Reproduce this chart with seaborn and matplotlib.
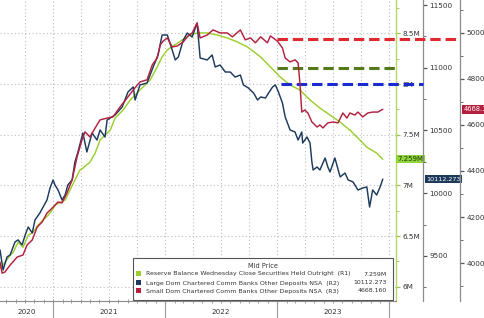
import matplotlib
matplotlib.use("Agg")
import numpy as np
import pandas as pd
import matplotlib.pyplot as plt
import matplotlib.dates as mdates
import matplotlib.transforms as mtrans
from matplotlib.ticker import FixedLocator, AutoMinorLocator, FuncFormatter, NullFormatter
from matplotlib.patches import Rectangle
import seaborn as sns

sns.set_theme(style="white")
plt.rcParams['font.family'] = ['DejaVu Sans']

# ---------------- data ----------------
GREEN_DATES = ["2020-07-12", "2020-07-28", "2020-08-14", "2020-08-24", "2020-09-09", "2020-09-25",
               "2020-10-12", "2020-10-28", "2020-11-13", "2020-11-29", "2020-12-16", "2020-12-29",
               "2021-01-07", "2021-01-24", "2021-02-09", "2021-02-25", "2021-03-13", "2021-03-29",
               "2021-04-08", "2021-05-01", "2021-05-18", "2021-06-03", "2021-07-06", "2021-07-22",
               "2021-08-17", "2021-09-09", "2021-10-11", "2021-11-13", "2021-12-06", "2021-12-22",
               "2022-01-08", "2022-01-27", "2022-02-26", "2022-03-23", "2022-04-15", "2022-05-18",
               "2022-06-19", "2022-07-22", "2022-08-24", "2022-09-26", "2022-11-08", "2022-12-10",
               "2023-01-11", "2023-02-12", "2023-03-16", "2023-04-18", "2023-05-20", "2023-06-22",
               "2023-07-25", "2023-08-26", "2023-09-18", "2023-10-20", "2023-11-21", "2023-12-11"]
GREEN_VALUES = [6.183, 6.242, 6.311, 6.341, 6.440, 6.390, 6.509, 6.539, 6.608, 6.657, 6.707, 6.756,
                6.805, 6.835, 6.855, 6.954, 7.052, 7.151, 7.171, 7.230, 7.319, 7.448, 7.546, 7.665,
                7.744, 7.843, 7.942, 8.041, 8.169, 8.268, 8.337, 8.376, 8.436, 8.485, 8.505, 8.505,
                8.485, 8.456, 8.416, 8.367, 8.268, 8.169, 8.070, 7.991, 7.942, 7.843, 7.764, 7.695,
                7.625, 7.546, 7.477, 7.378, 7.319, 7.259]

BLUE_DATES = ["2020-07-12", "2020-07-22", "2020-08-04", "2020-08-14", "2020-08-30", "2020-09-09",
              "2020-09-22", "2020-10-02", "2020-10-12", "2020-10-25", "2020-11-03", "2020-11-19",
              "2020-12-12", "2020-12-22", "2021-01-01", "2021-01-07", "2021-01-17", "2021-01-30",
              "2021-02-09", "2021-02-18", "2021-03-04", "2021-03-13", "2021-03-23", "2021-04-08",
              "2021-04-21", "2021-05-08", "2021-05-24", "2021-06-03", "2021-06-19", "2021-06-26",
              "2021-07-22", "2021-08-14", "2021-09-02", "2021-09-19", "2021-09-25", "2021-10-11",
              "2021-11-03", "2021-11-23", "2021-12-09", "2021-12-22", "2022-01-08", "2022-01-24",
              "2022-02-03", "2022-02-13", "2022-03-01", "2022-03-14", "2022-03-30", "2022-04-15",
              "2022-04-25", "2022-05-18", "2022-06-03", "2022-06-13", "2022-06-29", "2022-07-16",
              "2022-08-01", "2022-08-17", "2022-09-03", "2022-09-13", "2022-09-29", "2022-10-16",
              "2022-10-29", "2022-11-08", "2022-11-24", "2022-12-04", "2022-12-17", "2022-12-26",
              "2023-01-05", "2023-01-18", "2023-01-27", "2023-02-12", "2023-02-28", "2023-03-10",
              "2023-03-22", "2023-03-25", "2023-04-08", "2023-04-18", "2023-04-24", "2023-04-28",
              "2023-05-11", "2023-05-20", "2023-06-06", "2023-06-15", "2023-06-22", "2023-07-08",
              "2023-07-25", "2023-08-10", "2023-08-20", "2023-09-05", "2023-09-21", "2023-10-07",
              "2023-10-20", "2023-10-29", "2023-11-08", "2023-11-21", "2023-12-01", "2023-12-11"]
BLUE_VALUES = [9548, 9388, 9492, 9508, 9612, 9628, 9588, 9667, 9731, 9683, 9787, 9843,
               9946, 10042, 10106, 10066, 10026, 9946, 9986, 10066, 10106, 10249, 10329, 10480,
               10329, 10480, 10424, 10504, 10448, 10584, 10624, 10687, 10807, 10847, 10743, 10863,
               10879, 11006, 11102, 11261, 11261, 11141, 11062, 11086, 11221, 11277, 11245, 11357,
               11078, 11062, 11102, 11006, 11022, 10966, 10966, 10926, 10942, 10863, 10839, 10799,
               10743, 10767, 10759, 10799, 10847, 10863, 10807, 10719, 10608, 10504, 10488, 10424,
               10488, 10400, 10448, 10400, 10249, 10185, 10209, 10185, 10281, 10209, 10169, 10281,
               10130, 10161, 10106, 10090, 10026, 10042, 10050, 9890, 10026, 9986, 10042, 10112.273]

RED_DATES = ["2020-07-12", "2020-07-19", "2020-07-28", "2020-08-14", "2020-09-06", "2020-09-25",
             "2020-10-08", "2020-10-25", "2020-11-10", "2020-11-26", "2020-12-12", "2021-01-01",
             "2021-01-17", "2021-01-30", "2021-02-15", "2021-03-04", "2021-03-20", "2021-04-05",
             "2021-04-15", "2021-05-01", "2021-05-18", "2021-06-03", "2021-06-26", "2021-07-15",
             "2021-08-07", "2021-08-30", "2021-09-19", "2021-10-11", "2021-11-03", "2021-11-20",
             "2021-12-06", "2021-12-16", "2021-12-26", "2022-01-08", "2022-01-24", "2022-02-09",
             "2022-03-01", "2022-03-17", "2022-03-30", "2022-04-15", "2022-04-25", "2022-05-18",
             "2022-06-06", "2022-06-29", "2022-07-22", "2022-08-08", "2022-09-03", "2022-09-19",
             "2022-10-06", "2022-10-22", "2022-11-08", "2022-11-30", "2022-12-10", "2023-01-01",
             "2023-01-18", "2023-01-27", "2023-02-12", "2023-02-28", "2023-03-10", "2023-03-16",
             "2023-03-22", "2023-04-01", "2023-04-11", "2023-04-24", "2023-05-11", "2023-05-20",
             "2023-05-30", "2023-06-15", "2023-07-02", "2023-07-18", "2023-08-03", "2023-08-16",
             "2023-08-26", "2023-09-11", "2023-09-21", "2023-10-07", "2023-10-23", "2023-11-08",
             "2023-11-25", "2023-12-11"]
RED_VALUES = [4004, 3956, 3961, 3991, 4026, 4035, 4078, 4100, 4156, 4178, 4217, 4243,
              4265, 4261, 4304, 4361, 4461, 4535, 4570, 4548, 4587, 4622, 4630, 4635,
              4678, 4717, 4752, 4787, 4796, 4861, 4891, 4948, 4965, 4978, 4939, 4943,
              4961, 4987, 5000, 5043, 4978, 4991, 5013, 5000, 5000, 4983, 5013, 4970,
              4978, 4957, 4983, 4957, 4987, 4965, 4935, 4891, 4874, 4883, 4870, 4783,
              4656, 4665, 4652, 4613, 4591, 4600, 4587, 4609, 4613, 4609, 4652, 4630,
              4652, 4643, 4656, 4635, 4652, 4656, 4656, 4668.16]

# pre-SVB reference levels (dashed)
GREEN_LEVEL, GREEN_LEVEL_START = 8.159, "2023-01-01"
BLUE_LEVEL, BLUE_LEVEL_START = 10867, "2023-01-14"
RED_LEVEL, RED_LEVEL_START = 4974, "2023-01-01"

YEARS = [2020, 2021, 2022, 2023]
LEGEND_TITLE = "Mid Price"
LEGEND_LABELS = ["Reserve Balance Wednesday Close Securities Held Outright  (R1)",
                 "Large Dom Chartered Comm Banks Other Deposits NSA  (R2)",
                 "Small Dom Chartered Comm Banks Other Deposits NSA  (R3)"]
LAST_LABELS = ["7.259M", "10112.273", "4668.160"]

# ---------------- style ----------------
C_GREEN = "#9bcf2e"
C_BLUE = "#1d3a5c"
C_RED = "#b3203f"
C_RED_DASH = "#e0282e"
C_GREEN_DASH = "#557a1c"
C_BLUE_DASH = "#1a2bd1"
GRID = "#bdbdbd"
TXT = "#333333"

fig = plt.figure(figsize=(4.85, 3.18), dpi=100)
W, H = 485, 318
ax = fig.add_axes([0, 1 - 301 / H, 396 / W, 301 / H])
axb = ax.twinx()
axr = ax.twinx()

gx = pd.to_datetime(GREEN_DATES)
bx = pd.to_datetime(BLUE_DATES)
rx = pd.to_datetime(RED_DATES)

sns.lineplot(x=gx, y=GREEN_VALUES, ax=ax, color=C_GREEN, lw=1.05, zorder=3)
sns.lineplot(x=bx, y=BLUE_VALUES, ax=axb, color=C_BLUE, lw=1.05, zorder=3)
sns.lineplot(x=rx, y=RED_VALUES, ax=axr, color=C_RED, lw=1.05, zorder=3)

x0 = pd.Timestamp("2020-07-12")
x1 = pd.Timestamp("2024-01-23")
for a in (ax, axb, axr):
    a.set_xlim(x0, x1)
    a.set_xlabel("")
    a.set_ylabel("")
ax.set_ylim(5.86, 8.83)
axb.set_ylim(9141, 11540)
axr.set_ylim(3835, 5143)

# spines
for a in (ax, axb, axr):
    a.spines['top'].set_visible(False)
    a.spines['left'].set_visible(False)
axb.spines['bottom'].set_visible(False)
axr.spines['bottom'].set_visible(False)
ax.spines['bottom'].set_color("#8c8c8c")
ax.spines['bottom'].set_linewidth(0.8)
ax.spines['right'].set_color("#b5d86a")
ax.spines['right'].set_linewidth(1.0)
axb.spines['right'].set_position(('axes', 423 / 396))
axb.spines['right'].set_color("#8c8c8c")
axb.spines['right'].set_linewidth(0.9)
axr.spines['right'].set_position(('axes', 460 / 396))
axr.spines['right'].set_color("#8c8c8c")
axr.spines['right'].set_linewidth(0.9)

# y ticks
ax.yaxis.tick_right()
ax.set_yticks([6.0, 6.5, 7.0, 7.5, 8.0, 8.5])
ax.yaxis.set_major_formatter(FuncFormatter(lambda v, p: f"{v:g}M"))
ax.yaxis.set_minor_locator(AutoMinorLocator(2))
axb.set_yticks([9500, 10000, 10500, 11000, 11500])
axb.yaxis.set_minor_locator(AutoMinorLocator(2))
axr.set_yticks([4000, 4200, 4400, 4600, 4800, 5000])
axr.yaxis.set_minor_locator(AutoMinorLocator(2))
for a, col in ((ax, "#9cc24a"), (axb, "#555555"), (axr, "#555555")):
    a.tick_params(axis='y', which='major', right=True, left=False, direction='out', length=3,
                  width=0.9, color=col, labelsize=5.2, labelcolor=TXT, pad=1.5)
    a.tick_params(axis='y', which='minor', right=True, left=False, direction='out', length=1.8,
                  width=0.6, color=col)

# x axis: year labels at mid-year of visible part, monthly minor ticks, year separators
xl0, xl1 = mdates.date2num(x0), mdates.date2num(x1)
mids = []
for y in YEARS:
    a0 = max(mdates.date2num(pd.Timestamp(f"{y}-01-01")), xl0)
    a1 = min(mdates.date2num(pd.Timestamp(f"{y + 1}-01-01")), xl1)
    mids.append((a0 + a1) / 2)
ax.set_xticks(mids)
ax.set_xticklabels([str(y) for y in YEARS])
ax.xaxis.set_minor_locator(mdates.MonthLocator())
ax.xaxis.set_minor_formatter(NullFormatter())
ax.tick_params(axis='x', which='major', length=0, labelsize=5.2, labelcolor=TXT, pad=6)
ax.tick_params(axis='x', which='minor', bottom=True, direction='inout', length=3, width=0.6,
               color="#8c8c8c")
sec = ax.secondary_xaxis('bottom')
sec.set_xticks([mdates.date2num(pd.Timestamp(f"{y}-01-01")) for y in YEARS[1:] + [YEARS[-1] + 1]])
sec.tick_params(axis='x', which='major', length=16, width=0.8, color="#9a9a9a", labelbottom=False)
sec.tick_params(axis='x', which='minor', length=0)
sec.spines['bottom'].set_visible(False)

# grids
ax.grid(True, axis='y', which='major', ls=(0, (1, 2.2)), color=GRID, lw=0.8)
ax.grid(False, axis='x')
for q in pd.date_range("2020-07-01", "2024-01-01", freq="QS"):
    if x0 <= q <= x1:
        ax.axvline(q, ls=(0, (1, 2.2)), color=GRID, lw=0.8, zorder=0.5)

# dashed reference levels
def frac(d):
    return (mdates.date2num(pd.Timestamp(d)) - xl0) / (xl1 - xl0)

ax.axhline(GREEN_LEVEL, xmin=frac(GREEN_LEVEL_START), xmax=1.0, color=C_GREEN_DASH, lw=2.2,
           dashes=(3.4, 1.6), clip_on=False, zorder=4)
axb.axhline(BLUE_LEVEL, xmin=frac(BLUE_LEVEL_START), xmax=423 / 396, color=C_BLUE_DASH, lw=2.2,
            dashes=(3.4, 1.6), clip_on=False, zorder=4)
axr.axhline(RED_LEVEL, xmin=frac(RED_LEVEL_START), xmax=460 / 396, color=C_RED_DASH, lw=2.2,
            dashes=(3.4, 1.6), clip_on=False, zorder=4)

# last value labels on axes
ax.text(1.004, GREEN_VALUES[-1], LAST_LABELS[0], transform=mtrans.blended_transform_factory(ax.transAxes, ax.transData),
        ha='left', va='center', fontsize=5, color="#1e3a00", zorder=10,
        bbox=dict(boxstyle="square,pad=0.18", fc="#8fd43c", ec="none"))
axb.text(1.076, BLUE_VALUES[-1], LAST_LABELS[1], transform=mtrans.blended_transform_factory(axb.transAxes, axb.transData),
         ha='left', va='center', fontsize=4.6, color="white", zorder=10,
         bbox=dict(boxstyle="square,pad=0.22", fc=C_BLUE, ec="none"))
axr.text(1.170, RED_VALUES[-1], LAST_LABELS[2], transform=mtrans.blended_transform_factory(axr.transAxes, axr.transData),
         ha='left', va='center', fontsize=4.8, color="white", zorder=10,
         bbox=dict(boxstyle="square,pad=0.22", fc=C_RED, ec="none"))

# legend box (manual)
lx0, lx1 = 133 / 396, 393 / 396
ly0, ly1 = 1 / 301, 43 / 301
axr.add_patch(Rectangle((lx0, ly0), lx1 - lx0, ly1 - ly0, transform=axr.transAxes,
                        fc="white", ec="#555555", lw=0.8, zorder=20, clip_on=False))
axr.text((lx0 + lx1) / 2, 35 / 301, LEGEND_TITLE, transform=axr.transAxes, ha='center', va='center',
         fontsize=4.7, color=TXT, zorder=21)
rows_y = [27 / 301, 18 / 301, 10 / 301]
for yy, lab, val, col in zip(rows_y, LEGEND_LABELS, LAST_LABELS, [C_GREEN, C_BLUE, C_RED]):
    axr.add_patch(Rectangle((136 / 396, yy - 2.4 / 301), 5 / 396, 5 / 301, transform=axr.transAxes,
                            fc=col, ec="none", zorder=21, clip_on=False))
    axr.text(146 / 396, yy, lab, transform=axr.transAxes, ha='left', va='center',
             fontsize=4.5, color=TXT, zorder=21)
    axr.text(387 / 396, yy, val, transform=axr.transAxes, ha='right', va='center',
             fontsize=4.5, color=TXT, zorder=21)

fig.savefig("out.png", dpi=100)
